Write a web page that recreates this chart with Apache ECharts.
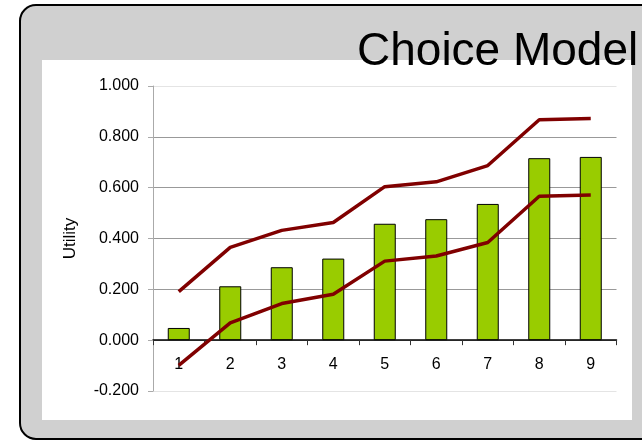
<!DOCTYPE html>
<html>
<head>
<meta charset="utf-8">
<script src="https://cdn.jsdelivr.net/npm/echarts@6/dist/echarts.min.js"></script>
<style>
  html, body { margin: 0; padding: 0; background: #fff; }
  #main { width: 642px; height: 440px; }
</style>
</head>
<body>
<div id="main"></div>
<script>
var categories = ['1', '2', '3', '4', '5', '6', '7', '8', '9'];
var utility = [0.048, 0.212, 0.287, 0.321, 0.458, 0.476, 0.536, 0.716, 0.721];
var upperBound = [0.191, 0.365, 0.432, 0.463, 0.604, 0.623, 0.687, 0.867, 0.872];
var lowerBound = [-0.099, 0.068, 0.144, 0.181, 0.311, 0.331, 0.384, 0.566, 0.571];

var chart = echarts.init(document.getElementById('main'));

var font = 'Liberation Sans, Arial, sans-serif';

chart.setOption({
    animation: false,
    backgroundColor: '#fff',
    graphic: [{
        type: 'rect',
        z: -10,
        shape: { x: 20, y: 5, width: 660, height: 434, r: 16 },
        style: { fill: '#d0d0d0', stroke: '#000', lineWidth: 2 }
    }, {
        type: 'rect',
        z: -9,
        shape: { x: 42, y: 60, width: 590, height: 360 },
        style: { fill: '#fff' }
    }],
    title: {
        text: 'Choice Model',
        left: 352,
        top: 24,
        z: 10,
        textStyle: { fontFamily: font, fontSize: 46, fontWeight: 'normal', color: '#000' }
    },
    grid: { left: 153, right: 25.5, top: 86, bottom: 49 },
    xAxis: {
        type: 'category',
        data: categories,
        axisLine: { onZero: true, lineStyle: { color: '#000', width: 1.5 } },
        axisTick: { show: true, length: 5, lineStyle: { color: '#333' } },
        // labels sit just under the zero line, not at the bottom of the grid
        axisLabel: { margin: -34, fontFamily: font, fontSize: 16, color: '#000' }
    },
    yAxis: {
        type: 'value',
        min: -0.2,
        max: 1.0,
        interval: 0.2,
        name: 'Utility',
        nameLocation: 'middle',
        nameGap: 74,
        nameTextStyle: { fontFamily: font, fontSize: 17, color: '#000' },
        axisLine: { show: true, lineStyle: { color: '#aaa' } },
        axisTick: { show: true, length: 5, lineStyle: { color: '#aaa' } },
        axisLabel: {
            margin: 14,
            fontFamily: font,
            fontSize: 16,
            color: '#000',
            formatter: function (v) { return v.toFixed(3); }
        },
        splitLine: {
            show: true,
            lineStyle: { color: ['#e4e4e4', '#999', '#999', '#999', '#999', '#999', '#e4e4e4'] }
        }
    },
    series: [{
        name: 'Utility',
        type: 'bar',
        data: utility,
        barWidth: 22,
        itemStyle: { color: '#99cc00', borderColor: '#000', borderWidth: 1 }
    }, {
        name: 'Upper',
        type: 'line',
        data: upperBound,
        symbol: 'none',
        lineStyle: { color: '#800000', width: 3.5 }
    }, {
        name: 'Lower',
        type: 'line',
        data: lowerBound,
        symbol: 'none',
        lineStyle: { color: '#800000', width: 3.5 }
    }]
});
</script>
</body>
</html>
